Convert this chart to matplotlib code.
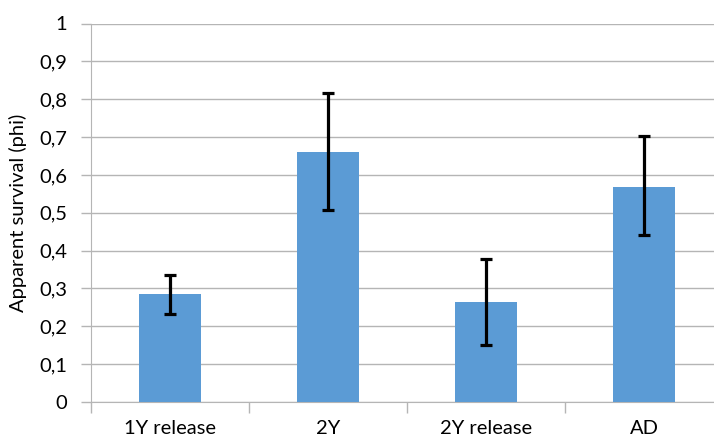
import matplotlib
matplotlib.use("Agg")
import matplotlib.pyplot as plt
import numpy as np
from matplotlib.ticker import FuncFormatter, FixedLocator

categories = ["1Y release", "2Y", "2Y release", "AD"]
phi = [0.285, 0.661, 0.263, 0.569]
err_low = [0.233, 0.508, 0.151, 0.441]
err_high = [0.336, 0.816, 0.377, 0.703]

plt.rcParams['font.family'] = ['Lato', 'DejaVu Sans']

fig = plt.figure(figsize=(7.14, 4.41), dpi=100)
W, H = 714, 441
x0, x1 = 91, 723
y0, y1 = 402, 23.5
ax = fig.add_axes([x0 / W, 1 - y0 / H, (x1 - x0) / W, (y0 - y1) / H])

x = np.arange(len(categories))
yerr = [np.array(phi) - np.array(err_low), np.array(err_high) - np.array(phi)]
ax.bar(x, phi, width=0.39, color="#5B9BD5", zorder=3)
ax.errorbar(x, phi, yerr=yerr, fmt="none", ecolor="black", elinewidth=2.3,
            capsize=4, capthick=2.3, zorder=4)

ax.set_xlim(-0.5, len(categories) - 0.5)
ax.set_ylim(0, 1)
ax.set_yticks(np.arange(0, 1.01, 0.1))
ax.yaxis.set_major_formatter(FuncFormatter(lambda v, p: ("%g" % round(v, 1)).replace(".", ",")))
ax.grid(axis="y", color="#b5b5b5", linewidth=1, zorder=0)
ax.set_axisbelow(True)

ax.set_xticks(x)
ax.set_xticklabels(categories)
ax.tick_params(axis="x", length=0, pad=13, labelsize=14.5, colors="#000000")
ax.xaxis.set_minor_locator(FixedLocator(np.arange(-0.5, len(categories), 1.0)))
ax.tick_params(axis="x", which="minor", length=8, color="#b5b5b5", width=1)
ax.tick_params(axis="y", length=7, color="#b5b5b5", width=1, pad=10, labelsize=14.5)

for s in ["top", "right"]:
    ax.spines[s].set_visible(False)
ax.spines["left"].set_color("#b5b5b5")
ax.spines["bottom"].set_color("#b5b5b5")

ax.set_ylabel("Apparent survival (phi)", fontsize=14.5, labelpad=9)

fig.savefig("out.png", dpi=100)
